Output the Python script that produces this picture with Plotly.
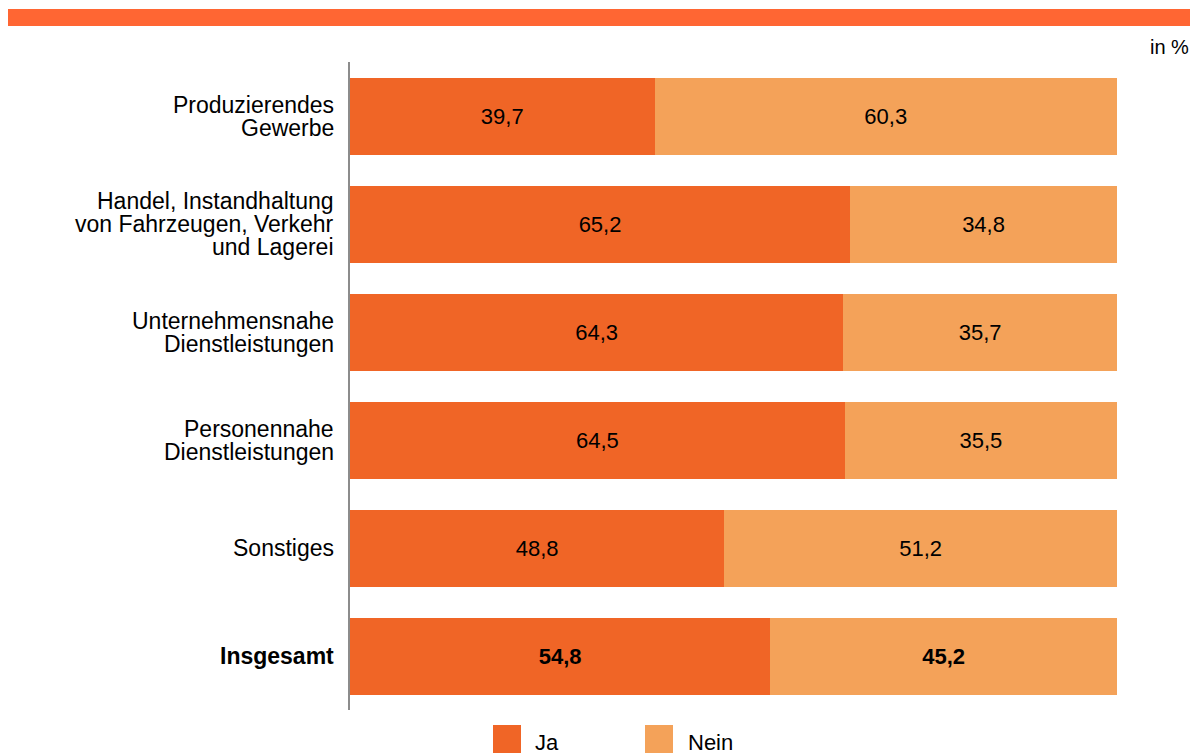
import plotly.graph_objects as go

categories = [
    "Produzierendes<br>Gewerbe",
    "Handel, Instandhaltung<br>von Fahrzeugen, Verkehr<br>und Lagerei",
    "Unternehmensnahe<br>Dienstleistungen",
    "Personennahe<br>Dienstleistungen",
    "Sonstiges",
    "<b>Insgesamt</b>",
]
ja = [39.7, 65.2, 64.3, 64.5, 48.8, 54.8]
nein = [60.3, 34.8, 35.7, 35.5, 51.2, 45.2]
series_names = ["Ja", "Nein"]

C_JA = "#F06526"
C_NEIN = "#F4A259"
FONT = "Liberation Sans, Arial, sans-serif"


def fmt(v, bold):
    s = f"{v:.1f}".replace(".", ",")
    return f"<b>{s}</b>" if bold else s


bold = [c.startswith("<b>") for c in categories]

fig = go.Figure()
for name, vals, col in [(series_names[0], ja, C_JA), (series_names[1], nein, C_NEIN)]:
    fig.add_trace(go.Bar(
        y=categories, x=vals, orientation="h", name=name,
        marker=dict(color=col, line=dict(width=0)),
        text=[fmt(v, b) for v, b in zip(vals, bold)],
        textposition="inside", insidetextanchor="middle",
        textfont=dict(family=FONT, size=22, color="black"),
        showlegend=False,
    ))

OFF = 8  # page body margin
W, H = 1198 - OFF, 753 - OFF
# plot area in page pixels: x 350..1117, y 62..710
L, R, T, B = 350 - OFF, 1198 - 1117, 62 - OFF, 753 - 710
pw, ph = W - L - R, H - T - B


def px(x):
    return (x - OFF - L) / pw


def py(y):
    return (H - B - (y - OFF)) / ph


fig.update_layout(
    width=W, height=H, barmode="stack", bargap=0.287,
    margin=dict(l=L, r=R, t=T, b=B, autoexpand=False),
    plot_bgcolor="white", paper_bgcolor="white",
    font=dict(family=FONT, size=21, color="black"),
    xaxis=dict(range=[0, 100], visible=False, fixedrange=True),
    yaxis=dict(autorange=False, range=[5.5, -0.5], showline=True, linecolor="#8c8c8c",
               linewidth=2, showgrid=False, ticks="", showticklabels=False),
    uniformtext=dict(mode=False),
)

# category labels, one annotation per line for tight line spacing
LINE = 23
for cat in categories:
    lines = cat.split("<br>")
    n = len(lines)
    for i, ln in enumerate(lines):
        fig.add_annotation(xref="paper", yref="y", x=px(336), y=cat, text=ln,
                           showarrow=False, xanchor="right", yanchor="middle",
                           yshift=((n - 1) / 2 - i) * LINE,
                           font=dict(family=FONT, size=23, color="black"))

shapes = [
    dict(type="rect", xref="paper", yref="paper", x0=px(8), x1=px(1198), y0=py(26), y1=py(9),
         fillcolor="#FF6633", line=dict(width=0), layer="above"),
    dict(type="rect", xref="paper", yref="paper", x0=px(493), x1=px(521), y0=py(753), y1=py(725),
         fillcolor=C_JA, line=dict(width=0)),
    dict(type="rect", xref="paper", yref="paper", x0=px(645), x1=px(673), y0=py(753), y1=py(725),
         fillcolor=C_NEIN, line=dict(width=0)),
]
fig.update_layout(shapes=shapes)

fig.add_annotation(xref="paper", yref="paper", x=px(1191), y=py(47), text="in %",
                   showarrow=False, xanchor="right", yanchor="middle",
                   font=dict(family=FONT, size=20, color="black"))
fig.add_annotation(xref="paper", yref="paper", x=px(533), y=py(742), text=series_names[0],
                   showarrow=False, xanchor="left", yanchor="middle",
                   font=dict(family=FONT, size=22, color="black"))
fig.add_annotation(xref="paper", yref="paper", x=px(686), y=py(742), text=series_names[1],
                   showarrow=False, xanchor="left", yanchor="middle",
                   font=dict(family=FONT, size=22, color="black"))

fig.write_html("out.html")
